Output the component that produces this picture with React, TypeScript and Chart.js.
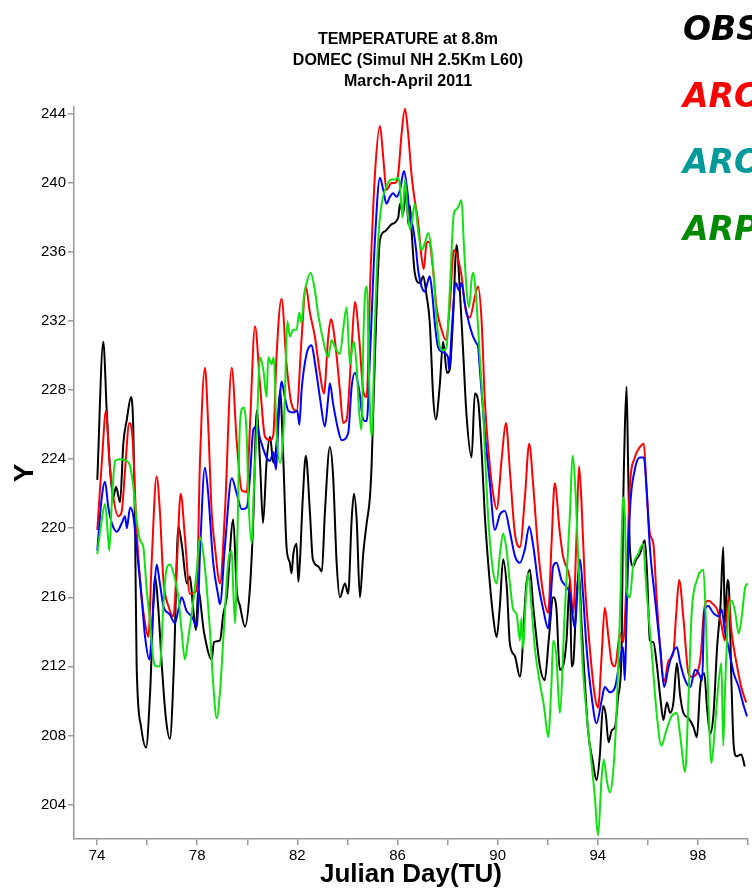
import { useEffect, useRef } from "react";
import { Chart, registerables } from "chart.js";

Chart.register(...registerables);

type Pt = [number, number];

// Julian day, temperature (K)
const obsSeries: Pt[] = [
  [74.01,222.8],[74.25,230.8],[74.39,226.7],[74.52,223.4],[74.65,221.8],[74.76,222.4],[74.92,221.5],[75.05,224.9],[75.19,226.3],[75.36,227.6],
  [75.45,225.7],[75.52,219.9],[75.58,212.2],[75.76,208.5],[75.96,207.3],[76.12,210.5],[76.32,217.2],[76.44,215.5],[76.59,212.0],[76.75,209.0],
  [76.91,207.8],[77.07,212.0],[77.25,220.1],[77.39,219.0],[77.59,216.8],[77.71,217.2],[77.83,215.5],[77.95,214.1],[78.04,216.4],[78.27,214.0],
  [78.58,212.4],[78.67,213.4],[78.91,213.5],[79.04,215.0],[79.18,216.0],[79.44,220.5],[79.58,216.4],[79.71,215.5],[79.91,214.3],[80.11,216.6],
  [80.24,220.5],[80.38,226.8],[80.51,223.8],[80.63,220.3],[80.77,223.8],[80.91,225.3],[81.04,223.8],[81.17,224.9],[81.31,228.0],[81.44,224.0],
  [81.57,218.9],[81.70,218.0],[81.77,217.4],[81.84,218.5],[81.97,219.1],[82.04,216.9],[82.10,218.0],[82.22,221.8],[82.34,224.2],[82.50,221.0],
  [82.62,218.2],[82.83,217.8],[82.98,217.5],[83.10,220.9],[83.30,224.7],[83.43,223.0],[83.57,218.0],[83.70,216.0],[83.90,216.8],[84.03,216.2],
  [84.17,220.5],[84.26,222.0],[84.37,220.5],[84.50,216.0],[84.63,218.5],[84.77,220.3],[84.90,221.8],[84.97,223.8],[85.10,230.0],[85.30,236.7],
  [85.50,237.2],[85.76,237.6],[86.03,238.0],[86.10,238.8],[86.22,238.2],[86.36,239.6],[86.43,237.6],[86.50,238.7],[86.56,237.3],[86.69,234.8],
  [86.89,234.2],[87.03,234.6],[87.16,233.5],[87.29,231.9],[87.43,227.5],[87.53,226.3],[87.69,228.3],[87.82,230.8],[87.98,229.0],[88.09,229.2],
  [88.22,232.2],[88.36,236.4],[88.49,233.8],[88.62,230.3],[88.76,226.5],[88.96,224.1],[89.09,227.8],[89.22,227.4],[89.36,224.5],[89.49,220.7],
  [89.69,216.8],[89.82,214.9],[89.96,213.7],[90.09,215.5],[90.22,218.2],[90.37,216.5],[90.49,213.3],[90.69,212.6],[90.89,211.4],[91.15,216.8],
  [91.29,217.6],[91.42,215.5],[91.69,212.0],[91.88,211.2],[92.04,213.5],[92.22,216.0],[92.35,215.3],[92.48,211.8],[92.61,212.0],[92.75,213.5],
  [92.89,217.0],[92.95,212.0],[93.02,212.2],[93.15,216.0],[93.25,217.4],[93.35,214.5],[93.48,211.2],[93.61,208.3],[93.81,206.4],[93.95,205.4],
  [94.08,206.8],[94.21,209.7],[94.32,209.2],[94.43,207.6],[94.56,208.3],[94.69,208.5],[94.82,210.3],[94.95,212.8],[95.01,220.9],[95.08,225.7],
  [95.15,228.2],[95.21,223.8],[95.28,218.9],[95.41,217.8],[95.54,218.2],[95.68,218.5],[95.88,219.3],[95.98,217.0],[96.08,213.5],[96.22,213.4],
  [96.35,212.2],[96.49,210.3],[96.62,208.9],[96.76,209.9],[96.89,209.3],[97.02,209.9],[97.16,212.2],[97.29,210.3],[97.42,209.3],[97.62,209.0],
  [97.82,208.5],[97.96,207.9],[98.09,210.8],[98.25,211.6],[98.37,209.5],[98.49,208.1],[98.62,209.2],[98.77,213.2],[98.90,215.5],[99.01,218.9],
  [99.08,214.5],[99.18,217.0],[99.25,216.2],[99.34,211.0],[99.43,207.4],[99.54,206.8],[99.73,206.9],[99.87,206.2],
];

const redSeries: Pt[] = [
  [74.01,219.9],[74.19,223.8],[74.36,226.8],[74.49,224.0],[74.65,221.8],[74.85,220.7],[74.99,221.0],[75.12,223.4],[75.29,226.1],[75.43,225.0],
  [75.58,219.9],[75.78,216.0],[75.92,214.5],[76.05,213.7],[76.18,218.0],[76.38,223.0],[76.51,221.0],[76.65,217.0],[76.85,215.5],[77.05,214.9],
  [77.19,218.0],[77.34,222.0],[77.51,219.5],[77.71,216.2],[77.98,216.4],[78.11,223.8],[78.31,229.3],[78.44,226.0],[78.58,220.9],[78.71,218.9],
  [78.91,216.8],[79.11,221.0],[79.38,229.3],[79.58,225.0],[79.78,222.2],[79.98,222.1],[80.11,226.0],[80.31,231.7],[80.51,228.3],[80.71,225.3],
  [80.91,225.1],[81.04,225.4],[81.17,230.0],[81.37,233.3],[81.57,229.5],[81.77,227.2],[81.97,226.8],[82.17,231.0],[82.34,234.0],[82.50,232.5],
  [82.70,231.1],[82.90,229.0],[83.06,227.8],[83.23,231.0],[83.34,232.1],[83.50,230.9],[83.70,228.0],[83.83,226.1],[83.97,226.3],[84.17,230.5],
  [84.30,233.1],[84.47,231.0],[84.63,228.0],[84.77,227.6],[84.90,233.8],[85.10,240.5],[85.30,243.3],[85.43,241.5],[85.56,239.6],[85.76,240.0],
  [85.90,240.0],[86.03,240.5],[86.16,242.8],[86.30,244.3],[86.43,242.8],[86.56,240.5],[86.69,239.0],[86.82,237.8],[86.96,235.7],[87.05,235.0],
  [87.16,236.5],[87.26,236.6],[87.40,235.3],[87.56,232.8],[87.76,231.5],[87.93,230.9],[88.09,232.9],[88.25,236.1],[88.42,235.6],[88.56,234.6],
  [88.73,232.6],[88.89,232.2],[89.09,233.4],[89.22,234.0],[89.36,232.0],[89.49,227.4],[89.69,223.6],[89.82,222.0],[89.96,221.1],[90.16,224.0],
  [90.33,226.1],[90.49,223.3],[90.69,219.7],[90.89,218.9],[91.09,221.8],[91.26,224.9],[91.42,222.5],[91.62,218.7],[91.82,216.2],[92.02,215.1],
  [92.15,219.0],[92.28,222.6],[92.48,219.8],[92.61,218.4],[92.89,217.0],[93.02,215.1],[93.15,219.5],[93.25,223.6],[93.35,221.5],[93.48,217.0],
  [93.68,213.1],[93.88,210.3],[94.01,209.6],[94.15,212.5],[94.28,215.4],[94.41,213.9],[94.56,212.2],[94.69,212.0],[94.89,213.9],[95.01,213.4],
  [95.15,217.0],[95.28,222.4],[95.48,224.1],[95.68,224.7],[95.84,224.9],[95.94,222.5],[96.08,219.7],[96.22,219.1],[96.35,216.0],[96.49,213.1],
  [96.65,211.1],[96.82,212.3],[97.02,212.8],[97.13,215.0],[97.25,217.0],[97.42,214.8],[97.62,211.6],[97.75,211.4],[97.96,211.6],[98.11,212.6],
  [98.25,215.3],[98.41,215.8],[98.61,215.6],[98.77,215.3],[98.94,214.4],[99.07,213.5],[99.22,216.0],[99.34,214.0],[99.54,212.2],[99.73,210.8],
  [99.93,209.9],
];

const blueSeries: Pt[] = [
  [74.01,218.7],[74.19,221.8],[74.32,222.7],[74.45,221.2],[74.59,220.3],[74.79,219.8],[74.99,220.3],[75.12,220.7],[75.19,220.0],[75.32,221.2],
  [75.45,220.7],[75.58,218.9],[75.78,216.0],[75.92,213.7],[76.09,212.4],[76.25,215.5],[76.38,217.9],[76.51,216.8],[76.65,215.5],[76.91,215.0],
  [77.11,214.5],[77.25,215.3],[77.38,216.0],[77.58,215.2],[77.78,214.9],[78.00,214.3],[78.11,218.5],[78.31,223.5],[78.44,222.0],[78.64,218.0],
  [78.84,216.1],[78.91,215.6],[79.11,219.0],[79.38,222.9],[79.58,222.0],[79.78,221.1],[79.98,221.2],[80.11,223.0],[80.24,225.7],[80.38,225.9],
  [80.51,225.2],[80.77,224.1],[80.91,223.9],[81.04,224.4],[81.15,223.4],[81.24,226.0],[81.37,228.5],[81.50,227.6],[81.64,226.8],[81.84,226.7],
  [82.00,226.8],[82.08,226.0],[82.17,228.0],[82.37,230.1],[82.57,230.6],[82.70,229.6],[82.90,227.6],[83.10,225.9],[83.23,227.5],[83.30,228.4],
  [83.43,227.2],[83.63,225.7],[83.77,225.1],[84.03,225.5],[84.17,228.2],[84.30,229.0],[84.47,228.0],[84.63,226.3],[84.77,226.2],[84.90,229.9],
  [85.10,236.7],[85.30,240.3],[85.43,239.6],[85.56,238.8],[85.70,239.2],[85.83,239.4],[85.96,239.2],[86.10,239.6],[86.26,240.7],[86.39,239.6],
  [86.50,238.0],[86.61,237.5],[86.73,236.3],[86.83,234.9],[86.96,234.0],[87.09,233.7],[87.23,234.4],[87.29,234.6],[87.40,233.4],[87.49,231.9],
  [87.62,230.5],[87.82,230.2],[88.02,229.9],[88.06,229.2],[88.17,231.5],[88.33,234.2],[88.45,233.8],[88.56,234.2],[88.69,233.0],[88.82,232.1],
  [88.89,231.7],[89.02,231.1],[89.16,230.7],[89.22,230.5],[89.29,229.2],[89.49,225.5],[89.69,222.6],[89.89,219.9],[90.09,220.8],[90.29,221.0],
  [90.49,219.8],[90.69,218.4],[90.89,218.0],[91.09,218.8],[91.26,220.1],[91.42,219.0],[91.62,216.8],[91.82,215.3],[92.02,214.2],[92.22,217.8],
  [92.35,218.0],[92.55,217.0],[92.75,216.6],[92.89,216.2],[93.02,214.7],[93.09,214.2],[93.22,217.4],[93.29,218.2],[93.42,216.0],[93.55,213.1],
  [93.75,210.3],[93.95,208.7],[94.15,210.0],[94.28,210.8],[94.48,210.5],[94.69,210.8],[94.89,212.4],[95.01,213.1],[95.08,211.2],[95.15,215.0],
  [95.28,220.9],[95.48,223.4],[95.68,224.1],[95.84,224.1],[95.94,222.5],[96.08,218.9],[96.28,216.0],[96.49,213.1],[96.65,210.8],[96.82,211.9],
  [96.95,212.6],[97.16,213.1],[97.29,212.2],[97.49,211.2],[97.69,210.8],[97.89,211.8],[98.03,211.6],[98.17,211.2],[98.25,215.1],[98.41,215.5],
  [98.61,215.1],[98.84,214.9],[98.95,215.3],[99.07,214.1],[99.22,213.1],[99.43,211.6],[99.63,210.8],[99.83,209.7],[99.96,209.1],
];

const greenSeries: Pt[] = [
  [74.01,218.5],[74.19,220.5],[74.32,221.4],[74.44,219.5],[74.49,218.7],[74.59,221.5],[74.72,223.9],[74.92,224.0],[75.19,223.9],[75.32,223.6],
  [75.45,222.4],[75.58,220.5],[75.72,219.3],[75.85,218.9],[75.98,216.5],[76.12,214.5],[76.25,212.4],[76.38,212.0],[76.51,212.0],[76.65,215.5],
  [76.75,217.4],[76.91,217.9],[77.07,217.3],[77.25,216.0],[77.38,214.0],[77.51,212.4],[77.63,213.5],[77.83,215.6],[77.98,217.5],[78.11,219.5],
  [78.23,218.7],[78.39,216.4],[78.51,214.1],[78.64,211.0],[78.78,209.0],[78.91,210.5],[79.04,213.5],[79.24,218.0],[79.38,218.7],[79.44,216.5],
  [79.51,214.5],[79.61,219.8],[79.71,226.1],[79.84,227.0],[79.98,225.3],[80.04,222.0],[80.18,219.1],[80.27,222.5],[80.38,225.7],[80.51,229.9],
  [80.65,229.1],[80.77,227.6],[80.84,229.9],[80.97,229.5],[81.06,229.9],[81.17,225.5],[81.31,223.8],[81.41,224.8],[81.50,227.5],[81.60,232.0],
  [81.70,231.1],[81.84,231.5],[81.97,231.5],[82.08,232.5],[82.17,231.9],[82.26,233.4],[82.37,234.2],[82.53,234.8],[82.70,233.8],[82.83,232.4],
  [83.03,230.9],[83.23,229.9],[83.37,230.9],[83.50,230.5],[83.70,230.1],[83.83,231.5],[83.97,232.8],[84.10,229.5],[84.17,230.2],[84.26,230.8],
  [84.37,229.3],[84.47,226.7],[84.57,225.7],[84.63,230.5],[84.70,233.4],[84.79,234.0],[84.86,229.0],[84.97,225.3],[85.10,231.9],[85.23,236.7],
  [85.37,238.8],[85.56,239.8],[85.76,240.2],[85.90,240.2],[86.03,240.3],[86.10,239.8],[86.20,238.0],[86.30,240.2],[86.39,238.6],[86.50,237.3],
  [86.60,238.0],[86.69,238.8],[86.82,237.3],[86.96,236.1],[87.09,236.5],[87.23,237.1],[87.36,236.1],[87.45,234.6],[87.56,232.2],[87.69,230.5],
  [87.82,230.3],[87.96,230.5],[88.09,233.8],[88.25,238.2],[88.38,238.5],[88.56,239.0],[88.65,236.5],[88.76,233.8],[88.86,232.8],[88.96,234.4],
  [89.02,234.8],[89.16,233.0],[89.29,229.9],[89.42,226.8],[89.49,224.5],[89.62,220.7],[89.79,217.8],[89.96,216.8],[90.09,218.5],[90.22,219.7],
  [90.36,218.7],[90.49,216.8],[90.62,215.3],[90.76,215.0],[90.89,213.5],[90.95,214.8],[91.02,213.0],[91.12,215.8],[91.22,217.4],[91.35,215.5],
  [91.49,213.0],[91.69,211.0],[91.85,209.7],[92.02,207.9],[92.15,211.0],[92.22,213.5],[92.35,212.5],[92.48,209.3],[92.68,215.1],[92.89,220.9],
  [92.99,224.2],[93.12,221.8],[93.25,217.0],[93.39,212.2],[93.55,209.3],[93.75,206.4],[93.88,204.5],[94.01,202.2],[94.15,205.5],[94.24,206.6],
  [94.36,205.4],[94.48,204.7],[94.61,205.8],[94.75,209.3],[94.89,215.1],[95.01,221.8],[95.08,220.8],[95.15,216.5],[95.28,216.0],[95.41,217.8],
  [95.61,218.5],[95.81,219.1],[95.94,216.5],[96.14,213.1],[96.35,209.3],[96.54,207.4],[96.74,208.3],[96.94,209.1],[97.16,209.3],[97.29,208.0],
  [97.49,205.9],[97.62,210.0],[97.75,215.1],[97.96,217.0],[98.22,217.6],[98.32,214.5],[98.41,210.3],[98.54,206.4],[98.68,208.5],[98.82,211.0],
  [98.94,212.2],[99.01,207.4],[99.08,210.5],[99.22,215.1],[99.35,215.8],[99.49,215.1],[99.63,213.9],[99.76,215.0],[99.89,216.6],[100.0,216.8],
];

const xTickValues = [74, 76, 78, 80, 82, 84, 86, 88, 90, 92, 94, 96, 98, 100];
const xLabelValues = [74, 78, 82, 86, 90, 94, 98];
const yTickValues = [204, 208, 212, 216, 220, 224, 228, 232, 236, 240, 244];
const titleLines = ["TEMPERATURE at 8.8m", "DOMEC (Simul NH 2.5Km L60)", "March-April 2011"];
const legendLabels = ["OBS", "ARO", "ARO", "ARP"];
const legendColors = ["#000000", "#ff0000", "#009a9a", "#008a00"];
const xTitle = "Julian Day(TU)";
const yTitle = "Y";

const toXY = (s: Pt[]) => s.map(([x, y]) => ({ x, y }));

const textPlugin = {
  id: "textOverlay",
  afterDraw(chart: any) {
    const ctx = chart.ctx as CanvasRenderingContext2D;
    const area = chart.chartArea;
    ctx.save();
    ctx.fillStyle = "#000";
    ctx.textAlign = "center";
    ctx.textBaseline = "middle";
    ctx.font = "bold 16px 'Liberation Sans', Arial, sans-serif";
    titleLines.forEach((t, i) => ctx.fillText(t, 408, 40 + i * 21));

    ctx.font = "bold 26px 'Liberation Sans', Arial, sans-serif";
    ctx.fillText(xTitle, (area.left + area.right) / 2, 875);

    ctx.save();
    ctx.translate(25, (area.top + area.bottom) / 2);
    ctx.rotate(-Math.PI / 2);
    ctx.font = "bold 28px 'Liberation Sans', Arial, sans-serif";
    ctx.fillText(yTitle, 0, 0);
    ctx.restore();

    ctx.textAlign = "left";
    ctx.textBaseline = "alphabetic";
    ctx.font = "italic bold 33px 'DejaVu Sans', sans-serif";
    legendLabels.forEach((t, i) => {
      ctx.fillStyle = legendColors[i];
      ctx.fillText(t, 683, 40 + i * 66.7);
    });
    ctx.restore();
  },
};

export default function App() {
  const ref = useRef<HTMLCanvasElement | null>(null);

  useEffect(() => {
    if (!ref.current) return;
    const axisGray = "#9a9a9a";
    const tickFont = { family: "'Liberation Sans', Arial, sans-serif", size: 15 };
    const chart = new Chart(ref.current, {
      type: "line",
      data: {
        datasets: [
          { label: "ARP", data: toXY(greenSeries), borderColor: "#11e011", order: 0 },
          { label: "ARO2", data: toXY(blueSeries), borderColor: "#0000ff", order: 1 },
          { label: "ARO1", data: toXY(redSeries), borderColor: "#ff0000", order: 2 },
          { label: "OBS", data: toXY(obsSeries), borderColor: "#000000", order: 3 },
        ].map((d) => ({
          ...d,
          borderWidth: 2,
          pointRadius: 0,
          fill: false,
          cubicInterpolationMode: "monotone" as const,
        })),
      },
      options: {
        responsive: false,
        animation: false,
        devicePixelRatio: 1,
        layout: { padding: { top: 107, right: 4, left: 0, bottom: 0 } },
        plugins: {
          legend: { display: false },
          title: { display: false },
          tooltip: { enabled: false },
        },
        scales: {
          x: {
            type: "linear",
            min: 73.08,
            max: 100,
            afterFit: (s: any) => { s.height = 51; },
            afterBuildTicks: (s: any) => { s.ticks = xTickValues.map((v) => ({ value: v })); },
            ticks: {
              autoSkip: false,
              maxRotation: 0,
              padding: 2,
              color: "#000",
              font: tickFont,
              callback: (v: any) => (xLabelValues.includes(Number(v)) ? String(v) : ""),
            },
            grid: { drawOnChartArea: false, drawTicks: true, tickLength: 6, color: axisGray, lineWidth: 1.5 },
            border: { display: true, color: axisGray, width: 1.5 },
          },
          y: {
            type: "linear",
            min: 202,
            max: 244.4,
            afterFit: (s: any) => { s.width = 74; },
            afterBuildTicks: (s: any) => { s.ticks = yTickValues.map((v) => ({ value: v })); },
            ticks: {
              autoSkip: false,
              padding: 2,
              color: "#000",
              font: tickFont,
              callback: (v: any) => String(v),
            },
            grid: { drawOnChartArea: false, drawTicks: true, tickLength: 6, color: axisGray, lineWidth: 1.5 },
            border: { display: true, color: axisGray, width: 1.5 },
          },
        },
      },
      plugins: [textPlugin],
    });
    return () => chart.destroy();
  }, []);

  return (
    <canvas
      ref={ref}
      width={752}
      height={890}
      style={{ position: "fixed", left: 0, top: 0, width: 752, height: 890 }}
    />
  );
}
